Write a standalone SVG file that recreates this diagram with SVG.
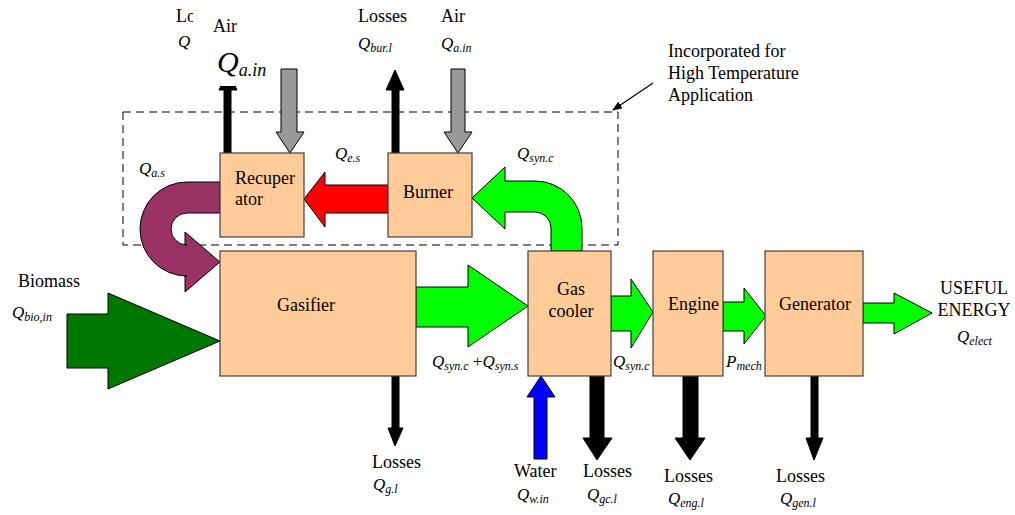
<svg xmlns="http://www.w3.org/2000/svg" width="1015" height="515" viewBox="0 0 1015 515">
<style>
.box{fill:#FFCC99;stroke:#404040;stroke-width:1.2}
.t{font-family:"Liberation Serif","Times New Roman",serif;font-size:18px;fill:#000}
.q{font-family:"Liberation Serif","Times New Roman",serif;font-size:17px;font-style:italic;fill:#000}
.s{font-size:12px;font-style:italic}
.a{stroke:#000;stroke-width:1}
.lime{fill:#00FF00}
.blk{fill:#000}
.gry{fill:#999999}
</style>
<defs>
<marker id="ah" markerWidth="10" markerHeight="8" refX="9" refY="4" orient="auto" markerUnits="userSpaceOnUse">
<path d="M0,0 L10,4 L0,8 Z" fill="#000"/>
</marker>
<clipPath id="cl"><rect x="0" y="0" width="193" height="60"/></clipPath>
</defs>
<g id="frame">
<rect x="123" y="112" width="495" height="133" fill="none" stroke="#000" stroke-width="1" stroke-dasharray="8,5"/>
<line x1="653" y1="83" x2="613" y2="110" stroke="#000" stroke-width="1.2" marker-end="url(#ah)"/>
<text class="t"><tspan x="668" y="57">Incorporated for</tspan><tspan x="668" y="79">High Temperature</tspan><tspan x="668" y="101">Application</tspan></text>
</g>
<g id="connectors">
<path class="a" fill="#007700" d="M67,314 L108,314 L108,293 L220,341 L108,389 L108,368 L67,368 Z"/>
<path class="a lime" d="M416,287 L468,287 L468,265 L528,306 L468,347 L468,327 L416,327 Z"/>
<path class="a lime" d="M611,296 L631,296 L631,279 L653,312 L631,348 L631,331 L611,331 Z"/>
<path class="a lime" d="M723,302 L744,302 L744,288 L766,316 L744,344 L744,331 L723,331 Z"/>
<path class="a lime" d="M863,303 L894,303 L894,293 L932,313 L894,334 L894,323 L863,323 Z"/>
<path class="a" fill="#FF0000" d="M388,185 L325,185 L325,172 L304,199 L325,227 L325,213 L388,213 Z"/>
<path class="a" fill="#993366" d="M220,182 L187,182 A47,47 0 0 0 187,276 L185,276 L185,292 L220,262 L185,232 L185,245 L187,245 A16,16 0 0 1 187,213 L220,213 Z"/>
<path class="a lime" d="M472,198 L505,167 L505,181 L535,181 A47,47 0 0 1 582,228 L582,251 L551,251 L551,228 A16,16 0 0 0 535,212 L505,212 L505,229 Z"/>
<path class="a gry" d="M281,69 L297,69 L297,132 L304,132 L290,153 L276,132 L281,132 Z"/>
<path class="a gry" d="M451,69 L465,69 L465,132 L472,132 L458,153 L444,132 L451,132 Z"/>
<path class="a blk" d="M392,153 L392,90 L386,90 L395,70 L404,90 L399,90 L399,153 Z"/>
<path class="a blk" d="M224,153 L224,90 L219,90 L228,70 L237,90 L231,90 L231,153 Z"/>
<path class="a blk" d="M392,376 L392,428 L388,428 L395,446 L403,428 L399,428 L399,376 Z"/>
<path class="a" fill="#0000FF" d="M534,459 L534,397 L527,397 L541,376 L555,397 L547,397 L547,459 Z"/>
<path class="a blk" d="M590,376 L590,438 L583,438 L597,460 L612,438 L604,438 L604,376 Z"/>
<path class="a blk" d="M683,376 L683,438 L675,438 L690,460 L705,438 L698,438 L698,376 Z"/>
<path class="a blk" d="M811,376 L811,438 L806,438 L814,460 L823,438 L818,438 L818,376 Z"/>
</g>
<g id="recuperator">
<rect class="box" x="220" y="153" width="84" height="84"/>
<text class="t"><tspan x="235" y="184">Recuper</tspan><tspan x="235" y="205">ator</tspan></text>
</g>
<g id="burner">
<rect class="box" x="388" y="153" width="84" height="84"/>
<text class="t" x="403" y="198">Burner</text>
</g>
<g id="gasifier">
<rect class="box" x="220" y="251" width="196" height="125"/>
<text class="t" x="306" y="311" text-anchor="middle">Gasifier</text>
</g>
<g id="gascooler">
<rect class="box" x="528" y="251" width="83" height="125"/>
<text class="t" x="571" y="295" text-anchor="middle">Gas</text>
<text class="t" x="571" y="317" text-anchor="middle">cooler</text>
</g>
<g id="engine">
<rect class="box" x="653" y="251" width="70" height="125"/>
<text class="t" x="668" y="310">Engine</text>
</g>
<g id="generator">
<rect class="box" x="765" y="251" width="98" height="125"/>
<text class="t" x="779" y="310">Generator</text>
</g>
<g id="top-left-labels">
<g clip-path="url(#cl)">
<text class="t" x="176" y="22">Lo</text>
<text class="q" x="178" y="47">Q</text>
</g>
<rect x="193" y="0" width="86" height="86" fill="#fff"/>
<text class="t" x="213" y="32">Air</text>
<text class="q" x="217" y="72" style="font-size:30px">Q<tspan style="font-size:18px" dy="4">a.in</tspan></text>
</g>
<g id="labels">
<text class="t" x="358" y="22">Losses</text>
<text class="q" x="358" y="49">Q<tspan class="s" dy="3">bur.l</tspan></text>
<text class="t" x="441" y="22">Air</text>
<text class="q" x="441" y="49">Q<tspan class="s" dy="3">a.in</tspan></text>
<text class="q" x="335" y="159">Q<tspan class="s" dy="3">e.s</tspan></text>
<text class="q" x="139" y="174">Q<tspan class="s" dy="3">a.s</tspan></text>
<text class="q" x="517" y="159">Q<tspan class="s" dy="3">syn.c</tspan></text>
<text class="q" x="432" y="367">Q<tspan class="s" dy="3">syn.c</tspan><tspan dy="-3" style="font-style:normal"> +</tspan>Q<tspan class="s" dy="3">syn.s</tspan></text>
<text class="q" x="613" y="367">Q<tspan class="s" dy="3">syn.c</tspan></text>
<text class="q" x="726" y="367">P<tspan class="s" dy="3">mech</tspan></text>
<text class="t" x="974" y="294" text-anchor="middle">USEFUL</text>
<text class="t" x="974" y="316" text-anchor="middle">ENERGY</text>
<text class="q" x="957" y="342">Q<tspan class="s" dy="3">elect</tspan></text>
<text class="t" x="18" y="287">Biomass</text>
<text class="q" x="12" y="318">Q<tspan class="s" dy="3">bio,in</tspan></text>
<text class="t" x="372" y="468">Losses</text>
<text class="q" x="373" y="490">Q<tspan class="s" dy="3">g.l</tspan></text>
<text class="t" x="514" y="477">Water</text>
<text class="q" x="517" y="500">Q<tspan class="s" dy="3">w.in</tspan></text>
<text class="t" x="583" y="477">Losses</text>
<text class="q" x="587" y="500">Q<tspan class="s" dy="3">gc.l</tspan></text>
<text class="t" x="664" y="482">Losses</text>
<text class="q" x="668" y="504">Q<tspan class="s" dy="3">eng.l</tspan></text>
<text class="t" x="776" y="482">Losses</text>
<text class="q" x="780" y="504">Q<tspan class="s" dy="3">gen.l</tspan></text>
</g>
</svg>
